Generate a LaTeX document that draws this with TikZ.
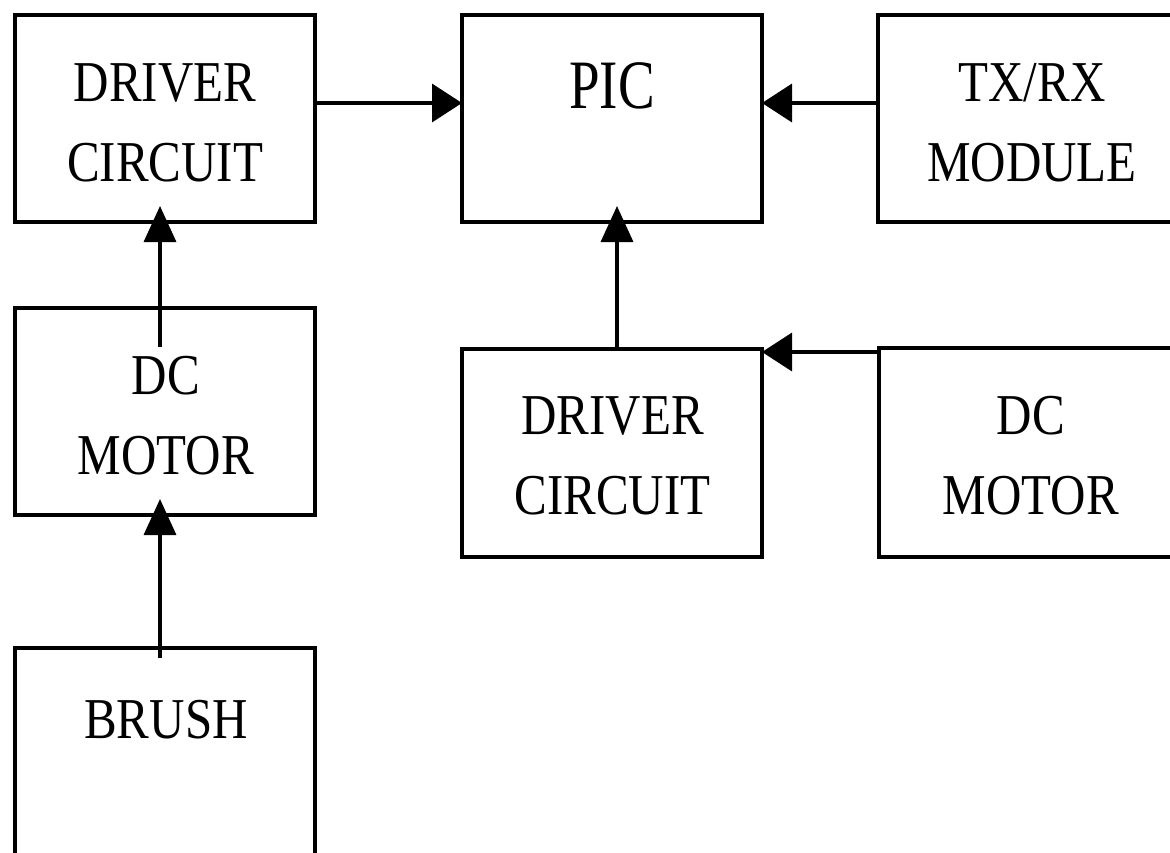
\documentclass[tikz,border=0pt]{standalone}
\usepackage{fontspec}
\setmainfont{Liberation Serif}
\usetikzlibrary{arrows.meta}
\newcommand\vstr[1]{\scalebox{1}[1.18]{#1}}
\begin{document}
\begin{tikzpicture}[x=1pt,y=-1pt,
  box/.style={draw=black,line width=3.5pt,rectangle,minimum width=300pt,minimum height=207pt,inner sep=0pt,outer sep=0pt},
  lbl/.style={align=center,inner sep=0pt,font=\fontsize{49}{80}\selectfont},
  harr/.style={line width=3.5pt,-{Triangle[length=30pt,width=38pt]}},
  varr/.style={line width=3.5pt,-{Triangle[length=36pt,width=32pt]},shorten >=-16pt}]
\useasboundingbox (0,0) rectangle (1170,852);
\clip (0,0) rectangle (1170,852);
\fill[white] (0,0) rectangle (1170,852);
% boxes
\node[box] (drvA) at (165,118.5) {};
\node[box] (pic) at (612,118.5) {};
\node[box] (txrx) at (1028,118.5) {};
\node[box] (dcA) at (165,411.5) {};
\node[box,minimum height=208pt] (drvB) at (612,453) {};
\node[box,minimum height=209pt] (dcB) at (1029,452.5) {};
\node[box] (brush) at (165,751.5) {};
% labels
\node[lbl] (tdrvA) at (165,122.5) {\vstr{DRIVER}\\\vstr{CIRCUIT}};
\node[inner sep=0pt,anchor=base,font=\fontsize{55}{60}\selectfont] (tpic) at (612,108) {\scalebox{1}[1.26]{PIC}};
\node[lbl] (ttxrx) at (1032,122.5) {\vstr{TX/RX}\\\vstr{MODULE}};
\node[lbl] (tdcA) at (166,416) {\vstr{DC}\\\vstr{MOTOR}};
\node[lbl] (tdrvB) at (612.5,456) {\vstr{DRIVER}\\\vstr{CIRCUIT}};
\node[lbl] (tdcB) at (1031,456) {\vstr{DC}\\\vstr{MOTOR}};
\node[inner sep=0pt,anchor=base,font=\fontsize{49}{60}\selectfont] (tbrush) at (166,738) {\vstr{BRUSH}};
% connectors
\draw[harr] ([yshift=15.5pt]drvA.east) -- ([yshift=15.5pt]pic.west);
\draw[harr] ([yshift=15.5pt]txrx.west) -- ([yshift=15.5pt]pic.east);
\draw[varr] ([xshift=-5pt,yshift=-39pt]dcA.north) -- ([xshift=-5pt]drvA.south);
\draw[varr] ([xshift=-5pt,yshift=-10pt]brush.north) -- ([xshift=-5pt]dcA.south);
\draw[varr] ([xshift=5pt]drvB.north) -- ([xshift=5pt]pic.south);
\draw[harr] ([yshift=-4pt]dcB.north west) -- ([yshift=-3pt]drvB.north east);
\end{tikzpicture}
\end{document}
